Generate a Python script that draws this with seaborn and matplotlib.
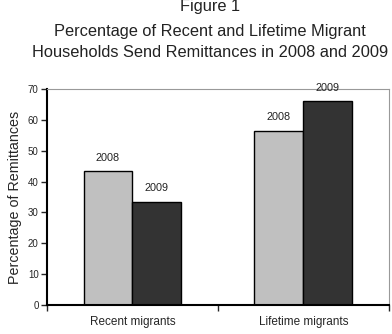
import numpy as np
import pandas as pd
import matplotlib
matplotlib.use('Agg')
import matplotlib.pyplot as plt
import seaborn as sns

groups = ['Recent migrants', 'Lifetime migrants']
years = ['2008', '2009']
pct_2008 = [43.3, 56.5]
pct_2009 = [33.5, 66.1]
y_ticks = [0, 10, 20, 30, 40, 50, 60, 70]

df = pd.DataFrame({
    'group': groups * 2,
    'year': [years[0]] * 2 + [years[1]] * 2,
    'pct': pct_2008 + pct_2009,
})

sns.set_style('white')
plt.rcParams['font.family'] = ['Liberation Sans', 'DejaVu Sans']

fig = plt.figure(figsize=(3.92, 3.34), dpi=100)
ax = fig.add_axes([0.12, 0.0868, 0.872, 0.6467])

sns.barplot(data=df, x='group', y='pct', hue='year', order=groups, hue_order=years,
            palette=['#c0c0c0', '#333333'], edgecolor='black', linewidth=1,
            width=0.573, ax=ax, legend=False)

# year labels above each bar
for cont, yr in zip(ax.containers, years):
    ax.bar_label(cont, labels=[yr] * len(cont), padding=6, fontsize=7.8, color='#222222')

ax.set_ylim(0, 70)
ax.set_xlim(-0.5, 1.5)
ax.set_yticks(y_ticks)
ax.tick_params(axis='y', direction='out', length=4, width=1, labelsize=7, pad=2, left=True)
ax.set_xticks([-0.5, 0.5, 1.5])
ax.set_xticklabels([])
ax.tick_params(axis='x', which='major', direction='out', length=4, width=1, bottom=True)
ax.set_xticks([0, 1], minor=True)
ax.set_xticklabels(groups, minor=True, fontsize=8.5)
ax.tick_params(axis='x', which='minor', length=0, pad=8)
ax.set_xlabel('')
ax.set_ylabel('Percentage of Remittances', fontsize=10.3, labelpad=4)

for s in ['left', 'bottom']:
    ax.spines[s].set_color('black')
    ax.spines[s].set_linewidth(1.5)
for s in ['top', 'right']:
    ax.spines[s].set_color('#999999')
    ax.spines[s].set_linewidth(0.8)

title_lines = ['Figure 1',
               'Percentage of Recent and Lifetime Migrant',
               'Households Send Remittances in 2008 and 2009']
for line, yb in zip(title_lines, [11, 35.7, 57.3]):
    fig.text(0.536, 1 - yb / 334, line, ha='center', va='baseline', fontsize=11.8,
             color='#222222')

fig.savefig('out.png', dpi=100)
